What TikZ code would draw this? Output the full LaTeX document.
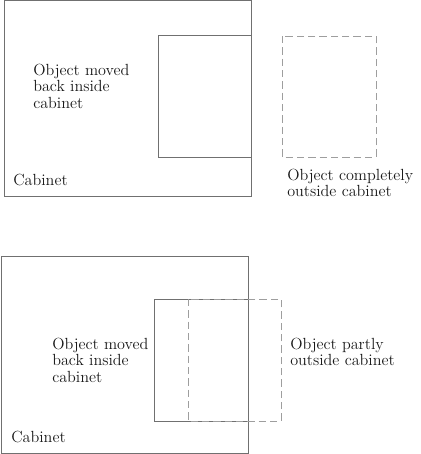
\documentclass[tikz,border=0pt]{standalone}
\usepackage{fontspec}
\setmainfont{Latin Modern Roman}
\begin{document}
\begin{tikzpicture}[x=0.75pt,y=-0.75pt,
  solidbox/.style={draw=black!56,line width=0.75pt},
  dashbox/.style={draw=black!38,line width=0.75pt,dash pattern=on 5.5pt off 3pt},
  lbl/.style={anchor=north west,inner sep=0pt,align=left,font=\fontsize{12.1}{12.2}\selectfont,text=black!90}]
\useasboundingbox (0,0) rectangle (421,454);
% top
\draw[solidbox] (4,0.5) rectangle (251,196);
\draw[solidbox] (158,35) rectangle (251,157);
\draw[dashbox] (282,36) rectangle (376,157);
\node[lbl] (t1) at (33,64) {Object moved\\back inside\\cabinet};
\node[lbl] (t2) at (13,174) {Cabinet};
\node[lbl] (t3) at (287,169) {Object completely\\outside cabinet};
% bottom
\draw[solidbox] (1,256) rectangle (248,453);
\draw[solidbox] (154,299) rectangle (248,421);
\draw[dashbox] (188,299) rectangle (281,421);
\node[lbl] (b1) at (52,338) {Object moved\\back inside\\cabinet};
\node[lbl] (b2) at (11,431) {Cabinet};
\node[lbl] (b3) at (290,338) {Object partly\\outside cabinet};
\end{tikzpicture}
\end{document}
